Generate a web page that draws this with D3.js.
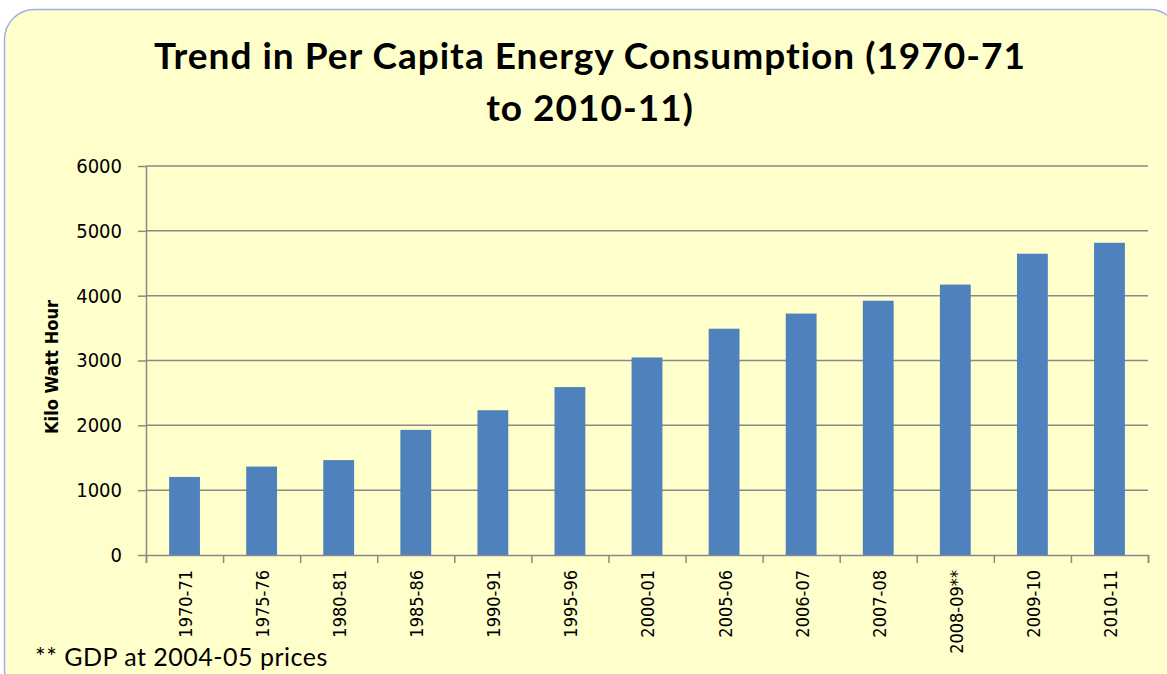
<!DOCTYPE html>
<html>
<head>
<meta charset="utf-8">
<script src="https://cdn.jsdelivr.net/npm/d3@7"></script>
<style>
  html, body { margin: 0; padding: 0; background: #fff; }
  svg { display: block; }
</style>
</head>
<body>
<div id="chart"></div>
<script>
const years = ["1970-71", "1975-76", "1980-81", "1985-86", "1990-91", "1995-96",
  "2000-01", "2005-06", "2006-07", "2007-08", "2008-09**", "2009-10", "2010-11"]
const kwh = [1204, 1364, 1464, 1930, 2233, 2590, 3047, 3490, 3724, 3922, 4171, 4647, 4816]
const yTicks = [0, 1000, 2000, 3000, 4000, 5000, 6000]
const titleLines = ["Trend in Per Capita Energy Consumption (1970-71", "to 2010-11)"]

const width = 1167, height = 674
const margin = { top: 166, right: 19, bottom: 119, left: 146 }
const axisFont = "'DejaVu Sans Condensed', 'DejaVu Sans', sans-serif"

let svg = d3.select("#chart")
  .append("svg")
  .attr("width", width)
  .attr("height", height)

// rounded yellow frame
svg.append("rect")
  .attr("x", 4.5)
  .attr("y", 9.5)
  .attr("width", 1175)
  .attr("height", 690)
  .attr("rx", 30)
  .attr("fill", "#FFFFCC")
  .attr("stroke", "#9BB2E4")
  .attr("stroke-width", 1.5)

let x = d3.scaleBand()
  .domain(years)
  .range([margin.left, width - margin.right])
  .paddingInner(0.6)
  .paddingOuter(0.3)

let xEdges = d3.scaleLinear()
  .domain([0, years.length])
  .range([margin.left, width - margin.right])

let y = d3.scaleLinear()
  .domain([0, 6000])
  .range([height - margin.bottom, margin.top])

// gridlines
svg.append("g")
  .selectAll("line")
  .data(yTicks.slice(1))
  .join("line")
    .attr("x1", margin.left)
    .attr("x2", width - margin.right)
    .attr("y1", d => y(d))
    .attr("y2", d => y(d))
    .attr("stroke", "#898989")
    .attr("stroke-width", 1.5)

// bars
svg.append("g")
  .selectAll("rect")
  .data(years)
  .join("rect")
    .attr("x", d => x(d))
    .attr("width", x.bandwidth())
    .attr("y", (d, i) => y(kwh[i]))
    .attr("height", (d, i) => y(0) - y(kwh[i]))
    .attr("fill", "#4F81BD")

// y axis
let yAxis = svg.append("g")
  .attr("transform", `translate(${margin.left},0)`)
  .call(d3.axisLeft(y).tickValues(yTicks).tickSize(8).tickSizeOuter(0).tickPadding(16).tickFormat(d3.format("d")))
yAxis.select(".domain").attr("stroke", "#898989").attr("stroke-width", 1.5)
yAxis.selectAll(".tick line").attr("stroke", "#898989").attr("stroke-width", 1.5)
yAxis.selectAll(".tick text")
  .attr("font-family", axisFont)
  .attr("font-size", "20px")
  .attr("fill", "#000")

// x axis line + ticks at category edges
let xAxis = svg.append("g")
  .attr("transform", `translate(0,${y(0)})`)
  .call(d3.axisBottom(xEdges).tickValues(d3.range(years.length + 1)).tickSize(8).tickFormat(""))
xAxis.select(".domain").attr("stroke", "#898989").attr("stroke-width", 1.5)
xAxis.selectAll(".tick line").attr("stroke", "#898989").attr("stroke-width", 1.5)

// category labels, rotated
svg.append("g")
  .selectAll("text")
  .data(years)
  .join("text")
    .attr("transform", d => `translate(${x(d) + x.bandwidth() / 2 + 1},${y(0) + 15}) rotate(-90)`)
    .attr("dy", "0.36em")
    .attr("text-anchor", "end")
    .attr("font-family", axisFont)
    .attr("font-size", "18px")
    .text(d => d)

// y title
svg.append("text")
  .attr("transform", `translate(58,367) rotate(-90)`)
  .attr("text-anchor", "middle")
  .attr("font-family", axisFont)
  .attr("font-weight", "bold")
  .attr("font-size", "18px")
  .text("Kilo Watt Hour")

// title
svg.append("g")
  .selectAll("text")
  .data(titleLines)
  .join("text")
    .attr("x", 590)
    .attr("y", (d, i) => 69 + i * 52)
    .attr("text-anchor", "middle")
    .attr("font-family", "Lato, sans-serif")
    .attr("font-weight", "bold")
    .attr("font-size", "37px")
    .attr("letter-spacing", "1px")
    .text(d => d)

// footnote
svg.append("text")
  .attr("x", 35)
  .attr("y", 666)
  .attr("font-family", "Lato, sans-serif")
  .attr("font-size", "25px")
  .attr("letter-spacing", "0.5px")
  .text("** GDP at 2004-05 prices")
</script>
</body>
</html>
